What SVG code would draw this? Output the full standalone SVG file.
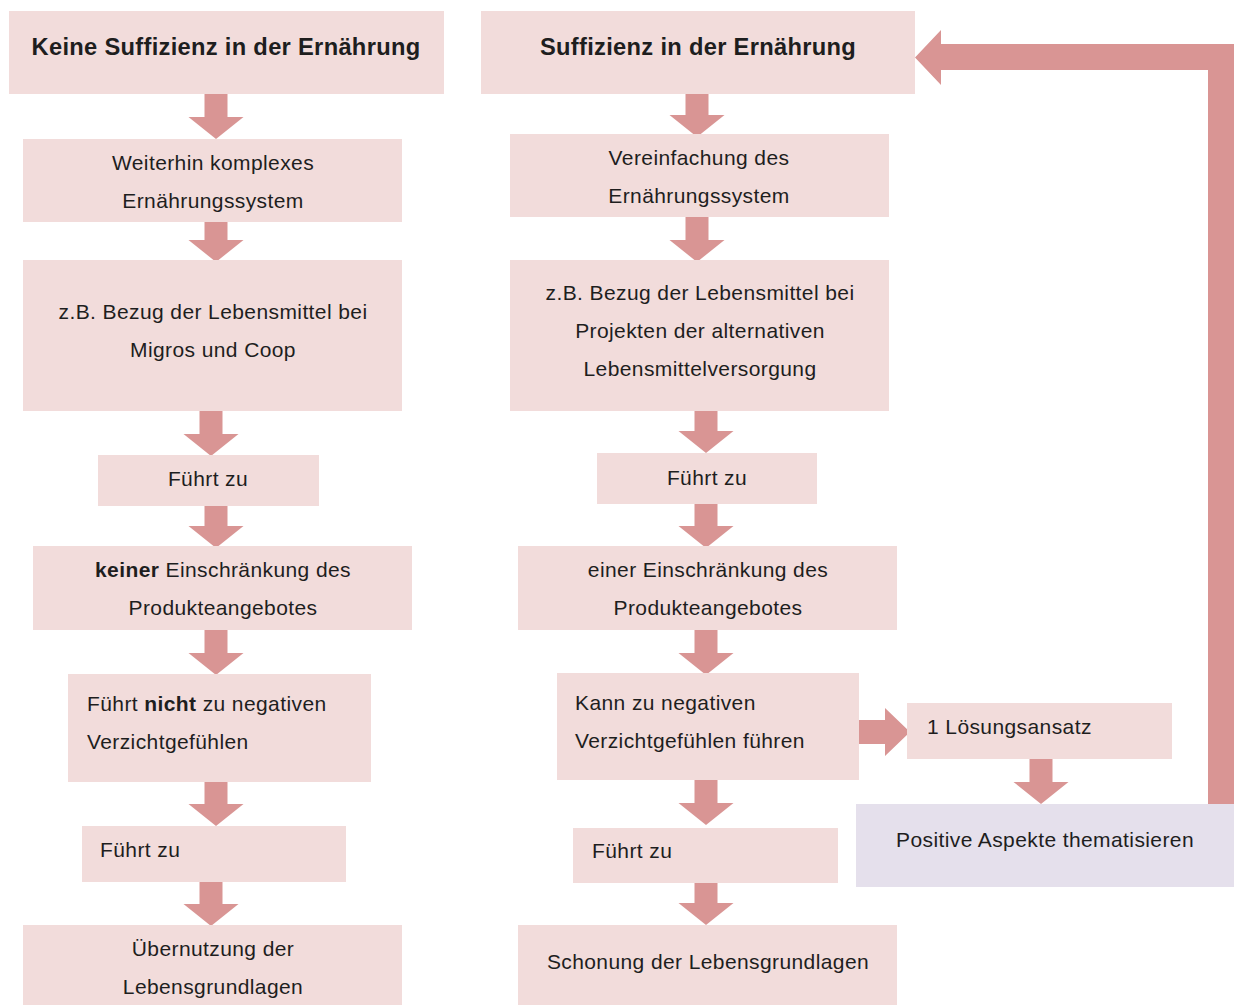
<svg xmlns="http://www.w3.org/2000/svg" xmlns:xlink="http://www.w3.org/1999/xlink" width="1234" height="1005" viewBox="0 0 1234 1005">
<style>
.box{fill:#f2dcdb}
.lav{fill:#e5e0ec}
.arr{fill:#d99594}
text{font-family:"Liberation Sans",Arial,sans-serif;font-size:21px;fill:#1e1e1e;letter-spacing:0.4px}
.c{text-anchor:middle}
.t{font-weight:bold;font-size:23.7px;letter-spacing:0.3px}
.b{font-weight:bold}
</style>
<defs>
<path id="down" d="M-11.5,0 H11.5 V23 H27.5 L0,45 L-27.5,23 H-11.5 Z"/>
</defs>
<g id="connectors" class="arr">
<use xlink:href="#down" x="216" y="94"/>
<use xlink:href="#down" x="216" y="217"/>
<use xlink:href="#down" x="211" y="411"/>
<use xlink:href="#down" x="216" y="503"/>
<use xlink:href="#down" x="216" y="630"/>
<use xlink:href="#down" x="216" y="781"/>
<use xlink:href="#down" x="211" y="881"/>
<use xlink:href="#down" x="697" y="92"/>
<use xlink:href="#down" x="697" y="217"/>
<use xlink:href="#down" x="706" y="408"/>
<use xlink:href="#down" x="706" y="503"/>
<use xlink:href="#down" x="706" y="630"/>
<use xlink:href="#down" x="706" y="780"/>
<use xlink:href="#down" x="706" y="880"/>
<use xlink:href="#down" x="1041" y="759"/>
<path d="M857,720 H885 V708 L910,732 L885,756 V744 H857 Z"/>
<path d="M1234,806 H1208 V70 H941 V85 L915,57.5 L941,30 V44 H1234 Z"/>
</g>
<g id="n1"><rect class="box" x="9" y="11" width="435" height="83"/><text class="c t" x="226" y="55">Keine Suffizienz in der Ernährung</text></g>
<g id="n2"><rect class="box" x="23" y="139" width="379" height="83"/><text class="c" x="213" y="170">Weiterhin komplexes</text><text class="c" x="213" y="208">Ernährungssystem</text></g>
<g id="n3"><rect class="box" x="23" y="260" width="379" height="151"/><text class="c" x="213" y="319">z.B. Bezug der Lebensmittel bei</text><text class="c" x="213" y="357">Migros und Coop</text></g>
<g id="n4"><rect class="box" x="98" y="455" width="221" height="51"/><text class="c" x="208" y="486">Führt zu</text></g>
<g id="n5"><rect class="box" x="33" y="546" width="379" height="84"/><text class="c" x="223" y="577"><tspan class="b">keiner</tspan> Einschränkung des</text><text class="c" x="223" y="615">Produkteangebotes</text></g>
<g id="n6"><rect class="box" x="68" y="674" width="303" height="108"/><text x="87" y="711">Führt <tspan class="b">nicht</tspan> zu negativen</text><text x="87" y="749">Verzichtgefühlen</text></g>
<g id="n7"><rect class="box" x="82" y="826" width="264" height="56"/><text x="100" y="857">Führt zu</text></g>
<g id="n8"><rect class="box" x="23" y="925" width="379" height="80"/><text class="c" x="213" y="956">Übernutzung der</text><text class="c" x="213" y="994">Lebensgrundlagen</text></g>
<g id="m1"><rect class="box" x="481" y="11" width="434" height="83"/><text class="c t" x="698" y="55">Suffizienz in der Ernährung</text></g>
<g id="m2"><rect class="box" x="510" y="134" width="379" height="83"/><text class="c" x="699" y="165">Vereinfachung des</text><text class="c" x="699" y="203">Ernährungssystem</text></g>
<g id="m3"><rect class="box" x="510" y="260" width="379" height="151"/><text class="c" x="700" y="300">z.B. Bezug der Lebensmittel bei</text><text class="c" x="700" y="338">Projekten der alternativen</text><text class="c" x="700" y="376">Lebensmittelversorgung</text></g>
<g id="m4"><rect class="box" x="597" y="453" width="220" height="51"/><text class="c" x="707" y="485">Führt zu</text></g>
<g id="m5"><rect class="box" x="518" y="546" width="379" height="84"/><text class="c" x="708" y="577">einer Einschränkung des</text><text class="c" x="708" y="615">Produkteangebotes</text></g>
<g id="m6"><rect class="box" x="557" y="673" width="302" height="107"/><text x="575" y="710">Kann zu negativen</text><text x="575" y="748">Verzichtgefühlen führen</text></g>
<g id="m7"><rect class="box" x="573" y="828" width="265" height="55"/><text x="592" y="858">Führt zu</text></g>
<g id="m8"><rect class="box" x="518" y="925" width="379" height="80"/><text class="c" x="708" y="969">Schonung der Lebensgrundlagen</text></g>
<g id="s1"><rect class="box" x="907" y="703" width="265" height="56"/><text x="927" y="734">1 Lösungsansatz</text></g>
<g id="s2"><rect class="lav" x="856" y="804" width="378" height="83"/><text class="c" x="1045" y="847">Positive Aspekte thematisieren</text></g>
</svg>
